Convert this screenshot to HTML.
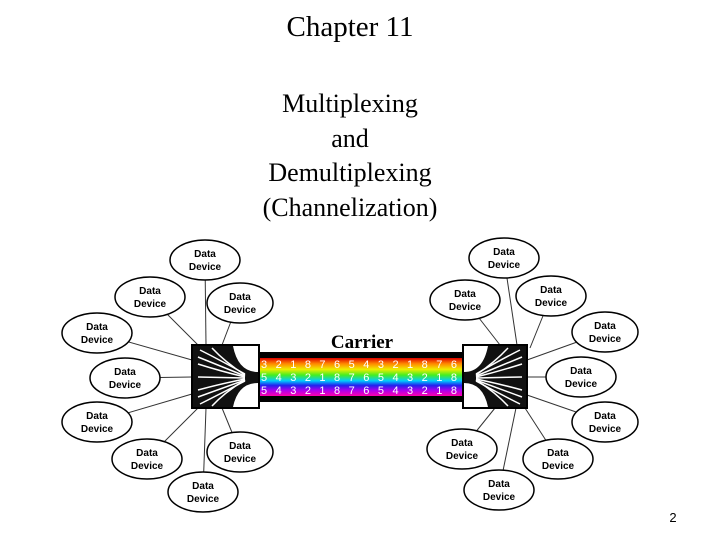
<!DOCTYPE html>
<html><head><style>
body{margin:0;background:#fff;width:720px;height:540px;overflow:hidden;position:relative;font-family:"Liberation Serif",serif;}
.t{position:absolute;left:0;width:700px;text-align:center;color:#000;}
</style></head><body>
<div class="t" style="top:11px;font-size:29px;">Chapter 11</div>
<div class="t" style="top:87px;font-size:26px;line-height:34.5px;">Multiplexing<br>and<br>Demultiplexing<br>(Channelization)</div>
<svg width="720" height="540" style="position:absolute;left:0;top:0">
<defs>
<linearGradient id="rb" x1="0" y1="0" x2="0" y2="1">
<stop offset="0" stop-color="#d00"/><stop offset="0.15" stop-color="#f80"/><stop offset="0.3" stop-color="#ee0"/>
<stop offset="0.45" stop-color="#4e2"/><stop offset="0.6" stop-color="#0cf"/><stop offset="0.72" stop-color="#22e"/>
<stop offset="0.85" stop-color="#a0e"/><stop offset="1" stop-color="#f0a"/></linearGradient>
</defs>
<g stroke="#333" stroke-width="1">
<line x1="205" y1="260" x2="206" y2="345"/><line x1="150" y1="297" x2="198" y2="345"/><line x1="238" y1="303" x2="222" y2="345"/>
<line x1="97" y1="333" x2="192" y2="360"/><line x1="125" y1="378" x2="192" y2="377"/><line x1="97" y1="422" x2="192" y2="394"/>
<line x1="147" y1="459" x2="198" y2="408"/><line x1="240" y1="452" x2="222" y2="408"/><line x1="203" y1="492" x2="206" y2="408"/>
<line x1="504" y1="258" x2="517" y2="345"/><line x1="465" y1="300" x2="500" y2="345"/><line x1="551" y1="296" x2="530" y2="348"/>
<line x1="605" y1="332" x2="527" y2="360"/><line x1="581" y1="377" x2="527" y2="377"/><line x1="605" y1="422" x2="527" y2="395"/>
<line x1="558" y1="459" x2="525" y2="408"/><line x1="462" y1="449" x2="495" y2="408"/><line x1="499" y1="490" x2="516" y2="408"/>
</g>
<rect x="258" y="352" width="206" height="50" fill="#000"/>
<rect x="259" y="358" width="204" height="38" fill="url(#rb)"/>
<g font-family="Liberation Sans,sans-serif" font-size="11" fill="#fff">
<text x="261" y="368" textLength="196" lengthAdjust="spacing">3 2 1 8 7 6 5 4 3 2 1 8 7 6</text>
<text x="261" y="381" textLength="196" lengthAdjust="spacing">5 4 3 2 1 8 7 6 5 4 3 2 1 8</text>
<text x="261" y="394" textLength="196" lengthAdjust="spacing">5 4 3 2 1 8 7 6 5 4 3 2 1 8</text>
</g>
<text x="362" y="348" font-family="Liberation Serif,serif" font-weight="bold" font-size="19" text-anchor="middle">Carrier</text>
<rect x="192" y="345" width="67" height="63" fill="#fff" stroke="#000" stroke-width="2"/>
<path d="M193,346 L233,346 Q238,372 258,372 L258,383 Q238,383 233,407 L193,407 Z" fill="#111"/>
<g stroke="#fff" stroke-width="1.5" fill="none">
<path d="M200,350 Q220,360 245,374"/><path d="M198,357 Q220,366 245,376"/><path d="M198,364 Q220,371 245,377"/>
<path d="M198,377 L245,378"/><path d="M198,390 Q220,384 245,379"/><path d="M198,397 Q220,389 245,380"/><path d="M200,404 Q220,394 245,381"/>
<path d="M212,348 Q225,362 245,375"/><path d="M212,406 Q225,392 245,380"/>
</g>
<rect x="463" y="345" width="64" height="63" fill="#fff" stroke="#000" stroke-width="2"/>
<path d="M526,346 L488,346 Q483,372 464,372 L464,383 Q483,383 488,407 L526,407 Z" fill="#111"/>
<g stroke="#fff" stroke-width="1.5" fill="none">
<path d="M520,350 Q500,360 476,374"/><path d="M522,357 Q500,366 476,376"/><path d="M522,364 Q500,371 476,377"/>
<path d="M522,377 L476,378"/><path d="M522,390 Q500,384 476,379"/><path d="M522,397 Q500,389 476,380"/><path d="M520,404 Q500,394 476,381"/>
<path d="M508,348 Q495,362 476,375"/><path d="M508,406 Q495,392 476,380"/>
</g>
<g fill="#fff" stroke="#000" stroke-width="1.5">
<ellipse cx="205" cy="260" rx="35" ry="20"/><ellipse cx="150" cy="297" rx="35" ry="20"/><ellipse cx="240" cy="303" rx="33" ry="20"/>
<ellipse cx="97" cy="333" rx="35" ry="20"/><ellipse cx="125" cy="378" rx="35" ry="20"/><ellipse cx="97" cy="422" rx="35" ry="20"/>
<ellipse cx="147" cy="459" rx="35" ry="20"/><ellipse cx="240" cy="452" rx="33" ry="20"/><ellipse cx="203" cy="492" rx="35" ry="20"/>
<ellipse cx="504" cy="258" rx="35" ry="20"/><ellipse cx="465" cy="300" rx="35" ry="20"/><ellipse cx="551" cy="296" rx="35" ry="20"/>
<ellipse cx="605" cy="332" rx="33" ry="20"/><ellipse cx="581" cy="377" rx="35" ry="20"/><ellipse cx="605" cy="422" rx="33" ry="20"/>
<ellipse cx="558" cy="459" rx="35" ry="20"/><ellipse cx="462" cy="449" rx="35" ry="20"/><ellipse cx="499" cy="490" rx="35" ry="20"/>
</g>
<g font-family="Liberation Sans,sans-serif" font-weight="bold" font-size="10" text-anchor="middle" fill="#000">
<text x="205" y="257">Data</text><text x="205" y="270">Device</text>
<text x="150" y="294">Data</text><text x="150" y="307">Device</text>
<text x="240" y="300">Data</text><text x="240" y="313">Device</text>
<text x="97" y="330">Data</text><text x="97" y="343">Device</text>
<text x="125" y="375">Data</text><text x="125" y="388">Device</text>
<text x="97" y="419">Data</text><text x="97" y="432">Device</text>
<text x="147" y="456">Data</text><text x="147" y="469">Device</text>
<text x="240" y="449">Data</text><text x="240" y="462">Device</text>
<text x="203" y="489">Data</text><text x="203" y="502">Device</text>
<text x="504" y="255">Data</text><text x="504" y="268">Device</text>
<text x="465" y="297">Data</text><text x="465" y="310">Device</text>
<text x="551" y="293">Data</text><text x="551" y="306">Device</text>
<text x="605" y="329">Data</text><text x="605" y="342">Device</text>
<text x="581" y="374">Data</text><text x="581" y="387">Device</text>
<text x="605" y="419">Data</text><text x="605" y="432">Device</text>
<text x="558" y="456">Data</text><text x="558" y="469">Device</text>
<text x="462" y="446">Data</text><text x="462" y="459">Device</text>
<text x="499" y="487">Data</text><text x="499" y="500">Device</text>
</g>
<text x="673" y="522" font-family="Liberation Sans,sans-serif" font-size="13" text-anchor="middle">2</text>
</svg>
</body></html>
